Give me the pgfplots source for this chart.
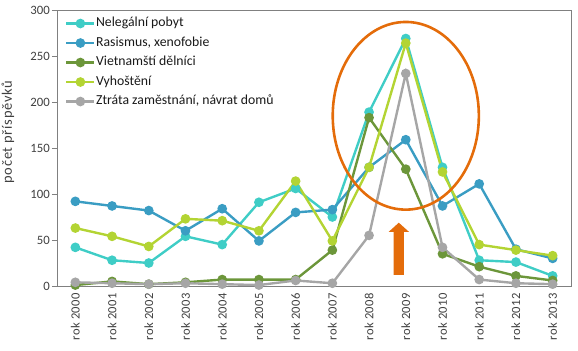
\documentclass[border=0pt]{standalone}
\usepackage{pgfplots}
\pgfplotsset{compat=1.18}
\usepackage{fontspec}
\setmainfont{Carlito}
\newfontfamily\ylabfont[LetterSpace=5]{Carlito}
\newfontfamily\tickfont[LetterSpace=3]{Carlito}
\definecolor{cNel}{HTML}{3FCDC6}
\definecolor{cRas}{HTML}{3A9DC3}
\definecolor{cVie}{HTML}{6C963A}
\definecolor{cVyh}{HTML}{B3D433}
\definecolor{cZtr}{HTML}{A6A6A6}
\definecolor{cOr}{HTML}{E46C0A}
\definecolor{cTxt}{HTML}{404040}
\begin{document}
\begin{tikzpicture}[x=1bp,y=1bp]
\begin{axis}[
  name=ax,
  scale only axis,
  width=514bp, height=276bp,
  xmin=-0.5, xmax=13.5, ymin=0, ymax=300,
  xtick={0,...,13},
  xticklabels={rok 2000,rok 2001,rok 2002,rok 2003,rok 2004,rok 2005,rok 2006,rok 2007,rok 2008,rok 2009,rok 2010,rok 2011,rok 2012,rok 2013},
  x tick label style={rotate=90, anchor=east, font=\tickfont\fontsize{12.6}{13}\selectfont, text=cTxt, inner sep=2bp},
  ytick={0,50,...,300},
  y tick label style={font=\fontsize{12.8}{13}\selectfont, text=cTxt, inner sep=2bp},
  /pgf/number format/assume math mode=true,
  major tick length=5bp,
  xtick style={draw=none},
  ytick style={draw=gray, line width=0.8pt},
  tick pos=left,
  tick align=outside,
  axis line style={draw=gray, line width=0.8pt},
  ylabel={počet příspěvků},
  every axis y label/.style={at={(rel axis cs:0,0.558)}, xshift=-49bp, rotate=90, anchor=center,
    font=\ylabfont\fontsize{14.5}{15}\selectfont, text=cTxt},
  legend style={at={(rel axis cs:0.0156,0.978)}, anchor=north west, draw=none, fill=none,
    font=\fontsize{13.8}{14}\selectfont, text=black!90, row sep=5bp, inner sep=0bp,
    nodes={inner sep=0.5bp, text height=10bp, text depth=3.5bp}},
  legend cell align=left,
  legend image code/.code={
    \draw[#1, mark=none] (0bp,0bp) -- (28bp,0bp);
    \path[#1] plot coordinates {(14bp,0bp)};
  },
  every axis plot/.append style={line width=2.4pt, mark=*, mark size=3.6pt, mark options={solid}},
]
\addplot[color=cNel] coordinates {(0,42)(1,28)(2,25)(3,54)(4,45)(5,91)(6,106)(7,75)(8,189)(9,269)(10,129)(11,28)(12,26)(13,11)};
\addlegendentry{Nelegální pobyt}
\addplot[color=cRas] coordinates {(0,92)(1,87)(2,82)(3,60)(4,84)(5,49)(6,80)(7,83)(8,129)(9,159)(10,87)(11,111)(12,40)(13,30)};
\addlegendentry{Rasismus, xenofobie}
\addplot[color=cVie] coordinates {(0,1)(1,5)(2,2)(3,4)(4,7)(5,7)(6,7)(7,39)(8,183)(9,127)(10,35)(11,21)(12,11)(13,6)};
\addlegendentry{Vietnamští dělníci}
\addplot[color=cVyh] coordinates {(0,63)(1,54)(2,43)(3,73)(4,71)(5,60)(6,114)(7,49)(8,129)(9,264)(10,124)(11,45)(12,39)(13,33)};
\addlegendentry{Vyhoštění}
\addplot[color=cZtr] coordinates {(0,4)(1,3)(2,2)(3,3)(4,2)(5,1)(6,6)(7,3)(8,55)(9,231)(10,42)(11,7)(12,3)(13,2)};
\addlegendentry{Ztráta zaměstnání, návrat domů}
\draw[cOr, line width=2.6pt] (axis cs:9,185) ellipse [x radius=1.99, y radius=102];
\fill[cOr] (axis cs:8.67,12) -- (axis cs:8.95,12) -- (axis cs:8.95,58.7) -- (axis cs:9.09,58.7)
  -- (axis cs:8.81,68.8) -- (axis cs:8.53,58.7) -- (axis cs:8.67,58.7) -- cycle;
\end{axis}
\pgfresetboundingbox
\useasboundingbox ([xshift=-57bp,yshift=-65bp]ax.south west) rectangle ([xshift=7bp,yshift=10bp]ax.north east);
\end{tikzpicture}
\end{document}
